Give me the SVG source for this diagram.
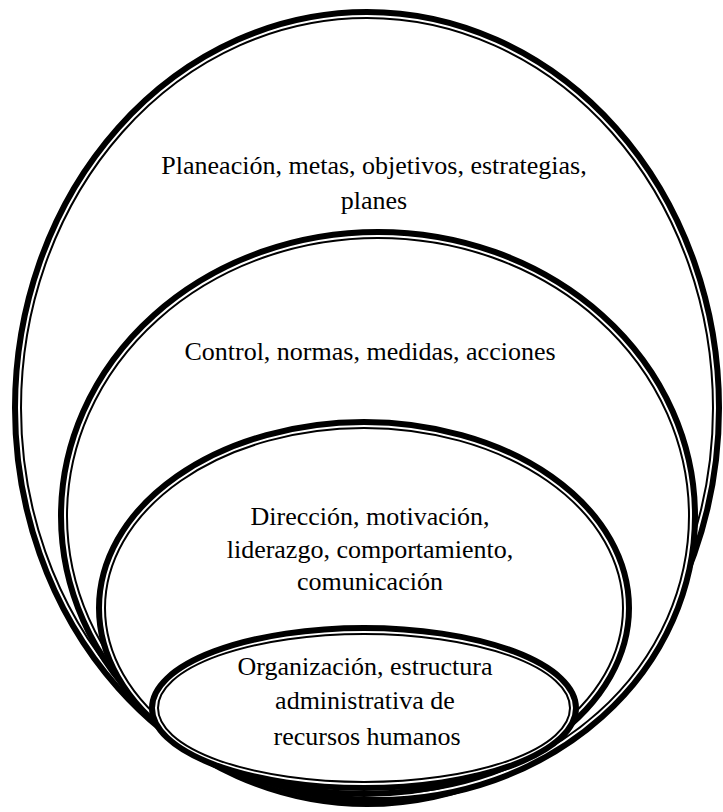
<svg xmlns="http://www.w3.org/2000/svg" width="723" height="812" viewBox="0 0 723 812">
  <style>
    .thick { fill: #ffffff; stroke: #000000; stroke-width: 6; }
    .thin { fill: none; stroke: #000000; stroke-width: 2; }
    .label { font-family: "Liberation Serif", "Times New Roman", serif; font-size: 26px; fill: #000000; text-anchor: middle; }
  </style>
  <rect width="723" height="812" fill="#ffffff"/>

  <!-- Outermost ring: planning -->
  <g id="planeacion">
    <ellipse class="thick" cx="367" cy="408" rx="352" ry="396"/>
    <ellipse class="thin" cx="367" cy="408" rx="346" ry="390"/>
    <text class="label" x="374" y="174">Planeación, metas, objetivos, estrategias,</text>
    <text class="label" x="374" y="209">planes</text>
  </g>

  <!-- Second ring: control -->
  <g id="control">
    <ellipse class="thick" cx="378" cy="516" rx="317" ry="284"/>
    <ellipse class="thin" cx="378" cy="516" rx="311" ry="278"/>
    <text class="label" x="370" y="360">Control, normas, medidas, acciones</text>
  </g>

  <!-- Third ring: direction -->
  <g id="direccion">
    <ellipse class="thick" cx="364" cy="608" rx="265" ry="186"/>
    <ellipse class="thin" cx="364" cy="608" rx="259" ry="180"/>
    <text class="label" x="370" y="525">Dirección, motivación,</text>
    <text class="label" x="370" y="558">liderazgo, comportamiento,</text>
    <text class="label" x="370" y="590">comunicación</text>
  </g>

  <!-- Innermost ring: organization -->
  <g id="organizacion">
    <ellipse class="thick" cx="364" cy="708" rx="212" ry="80"/>
    <ellipse class="thin" cx="364" cy="708" rx="206" ry="74"/>
    <text class="label" x="365" y="675">Organización, estructura</text>
    <text class="label" x="365" y="709">administrativa de</text>
    <text class="label" x="367" y="745">recursos humanos</text>
  </g>
</svg>
